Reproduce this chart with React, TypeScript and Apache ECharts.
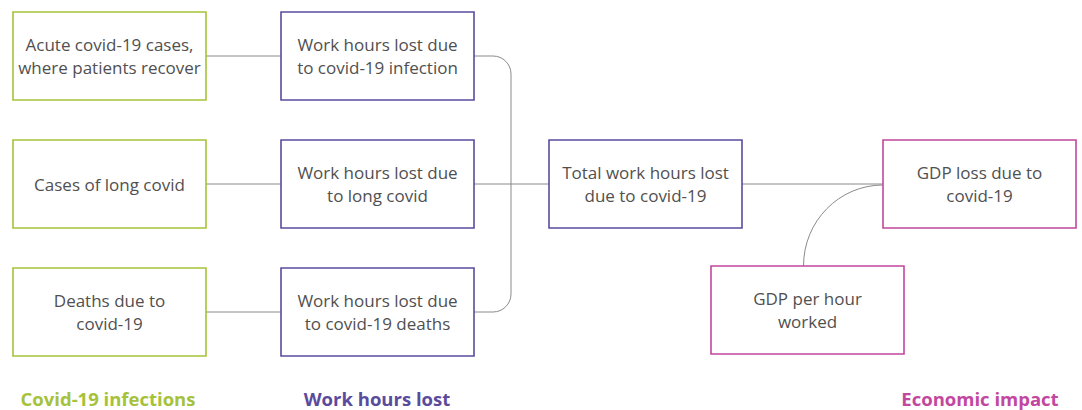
import React, { useEffect, useRef } from "react";
import * as echarts from "echarts";

// Content
const infectionLabels = [
  "Acute covid-19 cases,\nwhere patients recover",
  "Cases of long covid",
  "Deaths due to\ncovid-19",
];
const workHourLabels = [
  "Work hours lost due\nto covid-19 infection",
  "Work hours lost due\nto long covid",
  "Work hours lost due\nto covid-19 deaths",
];
const totalLabel = "Total work hours lost\ndue to covid-19";
const gdpLossLabel = "GDP loss due to\ncovid-19";
const gdpPerHourLabel = "GDP per hour\nworked";
const groupTitles = ["Covid-19 infections", "Work hours lost", "Economic impact"];

// Layout / style
const W = 1082;
const H = 410;
const GREEN = "#a6c23a";
const PURPLE = "#5b4b9d";
const MAGENTA = "#c2479f";
const TEXT = "#505050";
const LINE = "#8a8a8a";
const FONT = '"Open Sans", "Noto Sans", sans-serif';
const BW = 193;
const BH = 88;
const rowsY = [12, 140, 268];
const colGreenX = 13;
const colPurpleX = 281;
const totalBox = { x: 549, y: 140 };
const gdpLossBox = { x: 883, y: 140 };
const gdpHourBox = { x: 711, y: 266 };
const bracketX = 511;
const R = 18;
const K = 0.5523;

function box(x: number, y: number, color: string, label: string, key: string) {
  return [
    {
      type: "rect",
      id: key + "-rect",
      z: 10,
      shape: { x: x, y: y, width: BW, height: BH },
      style: { fill: "#ffffff", stroke: color, lineWidth: 1.6 },
    },
    {
      type: "text",
      id: key + "-text",
      z: 11,
      x: x + BW / 2,
      y: y + BH / 2,
      style: {
        text: label,
        align: "center",
        verticalAlign: "middle",
        fill: TEXT,
        fontSize: 17,
        fontFamily: FONT,
        lineHeight: 23,
      },
    },
  ];
}

function line(x1: number, y1: number, x2: number, y2: number, key: string) {
  return {
    type: "line",
    id: key,
    z: 5,
    shape: { x1, y1, x2, y2 },
    style: { stroke: LINE, lineWidth: 1 },
  };
}

function curve(
  x1: number, y1: number, cx1: number, cy1: number,
  cx2: number, cy2: number, x2: number, y2: number, key: string
) {
  return {
    type: "bezierCurve",
    id: key,
    z: 5,
    shape: { x1, y1, cpx1: cx1, cpy1: cy1, cpx2: cx2, cpy2: cy2, x2, y2 },
    style: { stroke: LINE, lineWidth: 1, fill: "none" },
  };
}

export default function App() {
  const ref = useRef<HTMLDivElement>(null);
  useEffect(() => {
    if (!ref.current) return;
    const chart = echarts.init(ref.current, null, { renderer: "svg" });
    const els: any[] = [];
    const cy = rowsY.map((y) => y + BH / 2);

    // connectors green -> purple
    cy.forEach((yy, i) => els.push(line(colGreenX + BW, yy, colPurpleX, yy, "gp" + i)));

    // bracket
    const px = colPurpleX + BW;
    els.push(line(px, cy[0], bracketX - R, cy[0], "bt"));
    els.push(curve(bracketX - R, cy[0], bracketX - R + R * K, cy[0], bracketX, cy[0] + R - R * K, bracketX, cy[0] + R, "bc1"));
    els.push(line(bracketX, cy[0] + R, bracketX, cy[2] - R, "bv"));
    els.push(curve(bracketX, cy[2] - R, bracketX, cy[2] - R + R * K, bracketX - R + R * K, cy[2], bracketX - R, cy[2], "bc2"));
    els.push(line(bracketX - R, cy[2], px, cy[2], "bb"));
    els.push(line(px, cy[1], totalBox.x, cy[1], "bm"));

    // total -> gdp loss
    els.push(line(totalBox.x + BW, cy[1], gdpLossBox.x, cy[1], "tg"));

    // gdp per hour -> gdp loss (quarter curve)
    const sx = gdpHourBox.x + BW / 2 - 4;
    const sy = gdpHourBox.y;
    const ex = gdpLossBox.x;
    const ey = cy[1] + 1;
    const rx = ex - sx;
    const ry = sy - ey;
    els.push(curve(sx, sy, sx, sy - ry * K, ex - rx * K, ey, ex, ey, "gc"));

    // boxes
    infectionLabels.forEach((l, i) => els.push(...box(colGreenX, rowsY[i], GREEN, l, "g" + i)));
    workHourLabels.forEach((l, i) => els.push(...box(colPurpleX, rowsY[i], PURPLE, l, "p" + i)));
    els.push(...box(totalBox.x, totalBox.y, PURPLE, totalLabel, "tot"));
    els.push(...box(gdpLossBox.x, gdpLossBox.y, MAGENTA, gdpLossLabel, "gl"));
    els.push(...box(gdpHourBox.x, gdpHourBox.y, MAGENTA, gdpPerHourLabel, "gh"));

    // group titles
    const titleX = [108, 377, 980];
    const titleColors = [GREEN, PURPLE, MAGENTA];
    groupTitles.forEach((t, i) =>
      els.push({
        type: "text",
        id: "title" + i,
        z: 11,
        x: titleX[i],
        y: 398,
        style: {
          text: t,
          align: "center",
          verticalAlign: "middle",
          fill: titleColors[i],
          fontSize: 18.5,
          fontWeight: "bold",
          fontFamily: FONT,
        },
      })
    );

    chart.setOption({
      animation: false,
      backgroundColor: "#ffffff",
      graphic: { elements: els },
    });
    return () => chart.dispose();
  }, []);

  return (
    <div
      ref={ref}
      style={{ position: "absolute", left: 0, top: 0, width: W, height: H }}
    />
  );
}
